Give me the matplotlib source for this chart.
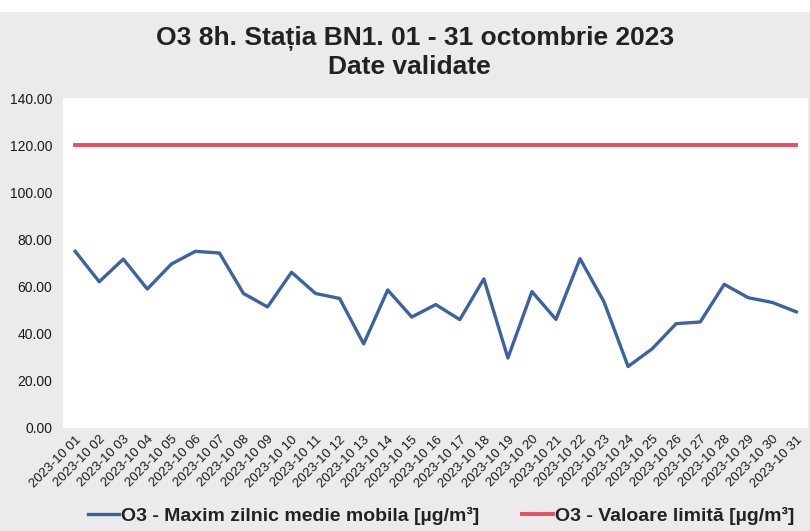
import matplotlib
matplotlib.use("Agg")
import matplotlib.pyplot as plt
from matplotlib.patches import Rectangle

days = [f"2023-10 {d:02d}" for d in range(1, 32)]
o3_max = [75, 62.1, 71.7, 59, 69.6, 75, 74.3, 57.1, 51.4, 66.1, 57.1, 55, 35.7,
          58.6, 47.1, 52.4, 46, 63.3, 29.7, 57.9, 46.1, 71.9, 53.5, 26.1, 33.6,
          44.3, 45, 61, 55.3, 53.3, 49.3]
limit = [120] * 31
yticks = [0, 20, 40, 60, 80, 100, 120, 140]

plt.rcParams['font.family'] = ['Liberation Sans', 'DejaVu Sans']

fig = plt.figure(figsize=(8.1, 5.31), dpi=100)
fig.patch.set_facecolor('#ebebeb')
fig.patches.append(Rectangle((0, 1 - 12/531), 1, 12/531, transform=fig.transFigure,
                             facecolor='white', edgecolor='none', zorder=0))
ax = fig.add_axes([0.078, 0.194, 0.920, 0.621])
ax.set_facecolor('white')
x = list(range(len(days)))
ax.plot(x, o3_max, color='#3c63a0', lw=2.4, label='O3 - Maxim zilnic medie mobila [µg/m³]')
ax.plot(x, limit, color='#e84d5e', lw=2.8, label='O3 - Valoare limită [µg/m³]')
ax.set_xlim(-0.5, 30.5)
ax.set_ylim(0, 140)
ax.set_yticks(yticks)
ax.set_yticklabels([f"{v:.2f}" for v in yticks], fontsize=10, color='#1a1a1a')
ax.set_xticks(x)
ax.set_xticklabels(days, rotation=45, ha='right', rotation_mode='anchor', fontsize=9.5, color='#1a1a1a')
for s in ax.spines.values():
    s.set_visible(False)
ax.tick_params(length=0, pad=4)
ax.tick_params(axis='y', pad=8)

fig.text(0.512, 0.928, 'O3 8h. Stația BN1. 01 - 31 octombrie 2023', ha='center', va='center',
         fontsize=19, fontweight='bold', color='#222222')
fig.text(0.506, 0.874, 'Date validate', ha='center', va='center',
         fontsize=19, fontweight='bold', color='#222222')

leg = fig.legend(loc='center', bbox_to_anchor=(0.545, 0.028), ncol=2, frameon=False,
                 prop={'size': 14, 'weight': 'bold'}, handlelength=1.6, handletextpad=0.1,
                 columnspacing=2.2)
for t in leg.get_texts():
    t.set_color('#222222')
fig.savefig('out.png', dpi=100, facecolor=fig.get_facecolor())
